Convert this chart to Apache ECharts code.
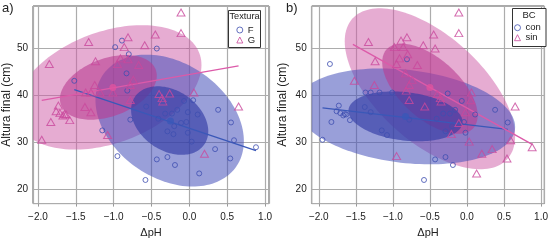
<!DOCTYPE html>
<html><head><meta charset="utf-8">
<script src="https://cdn.jsdelivr.net/npm/echarts@6/dist/echarts.min.js"></script>
<style>html,body{margin:0;padding:0;background:#fff}#c{width:551px;height:243px}</style>
</head><body><div id="c"></div>
<script>
// ---- data (same measurements shown in both panels, grouped differently) ----
const dpH = [
 -1.85,-1.95,-1.83,-1.73,-1.76,-1.71,-1.65,-1.63,-1.67,-1.58,
 -1.38,-1.30,-1.08,-1.33,-0.81,-0.86,-0.59,-1.24,-0.91,-0.81,
 -0.95,-0.67,-0.74,-1.25,-0.78,-1.37,-1.30,-1.18,-1.01,-0.78,
 -0.11,-0.11,-0.45,0.06,0.65,-0.40,-0.26,-0.36,-0.35,0.20,
 -0.89,-0.98,-0.80,-0.83,-1.52,-0.82,-0.57,-0.43,-0.07,0.05,
 -0.32,-0.23,-0.16,-0.02,0.11,0.38,0.55,-0.41,-0.11,-0.04,
 -0.20,-0.29,-0.21,-0.02,0.03,0.59,0.88,0.34,0.54,-0.43,
 -0.29,-0.19,0.13,-0.58,-0.78,-1.15,-0.95
];
const altura = [
 46.7,30.5,34.3,37.8,36.6,36.2,36.0,35.9,35.7,34.7,
 37.5,36.4,31.5,51.4,52.4,50.3,50.7,47.3,47.9,47.7,
 46.7,46.5,43.3,42.2,42.2,40.6,40.6,40.6,40.6,39.0,
 57.7,53.3,53.0,40.6,37.6,40.3,40.4,39.4,38.7,27.5,
 51.7,50.3,48.8,44.7,43.1,41.0,37.6,50.0,38.8,38.95,
 36.1,36.1,36.9,36.4,35.9,36.9,34.2,35.0,34.1,34.3,
 33.4,32.3,31.7,32.0,30.1,30.4,28.9,28.5,26.5,26.3,
 26.8,25.1,23.3,21.9,34.8,32.5,27.0
];
const textura = [
 'G','G','G','G','G','G','G','G','G','G',
 'G','G','G','G','G','G','G','G','G','G',
 'G','G','G','G','G','G','G','G','G','G',
 'G','G','G','G','G','G','G','G','G','G',
 'F','F','F','F','F','F','F','F','F','F',
 'F','F','F','F','F','F','F','F','F','F',
 'F','F','F','F','F','F','F','F','F','F',
 'F','F','F','F','F','F','F'
];
const bc = [
 'con','con','con','con','con','con','con','con','con','con',
 'con','con','con','sin','sin','sin','sin','sin','sin','con',
 'sin','sin','sin','sin','sin','con','con','con','con','sin',
 'sin','sin','sin','sin','sin','sin','con','sin','sin','sin',
 'sin','sin','sin','sin','sin','sin','sin','sin','con','sin',
 'con','con','con','sin','con','con','con','con','sin','con',
 'con','con','sin','con','sin','sin','sin','sin','sin','con',
 'con','con','sin','con','con','con','sin'
];
const groupsA = ['F','G'];
const groupsB = ['con','sin'];
const xTicks = [-2.0,-1.5,-1.0,-0.5,0.0,0.5,1.0];
const yTicks = [20,30,40,50];
// group means (filled dots)
const meanA_x = [-0.25,-1.01], meanA_y = [34.5,41.7];
const meanB_x = [-0.83,-0.50], meanB_y = [35.5,41.7];
// regression lines (end points)
const fitA_x0 = [-1.52,-1.95], fitA_y0 = [41.2,38.9], fitA_x1 = [0.88,0.65], fitA_y1 = [28.2,46.3];
const fitB_x0 = [-1.95,-1.54], fitB_y0 = [37.3,50.9], fitB_x1 = [0.55,0.88], fitB_y1 = [32.7,29.5];
// ellipses: centre, half-extents (outer), correlation, inner scale
const ellA_cx = [-0.26,-1.07], ellA_cy = [34.6,41.7], ellA_hx = [0.98,1.23], ellA_hy = [14.1,13.3], ellA_r = [-0.31,0.36], ellA_in = [0.52,0.52];
const ellB_cx = [-0.83,-0.50], ellB_cy = [35.5,41.4], ellB_hx = [1.48,1.15], ellB_hy = [10.25,17.2], ellB_r = [-0.22,-0.59], ellB_in = [0.52,0.56];

// ---- styling ----
const FONT = 'Liberation Sans, Arial, sans-serif';
const BLUE = '#3f4fb0', PINK = '#c9499c';
const BLUE_LINE = '#3a58b8', PINK_LINE = '#dc5aa9';
const FILL = {
  blueOuter: 'rgba(70,80,185,0.55)', blueInner: 'rgba(50,60,165,0.65)',
  pinkOuter: 'rgba(205,90,165,0.5)', pinkInner: 'rgba(185,60,145,0.6)'
};
const X_MIN = [-2.065,-2.096], X_MAX = [1.052,1.044];
const Y_MIN = 16.85, Y_MAX = 59.1;

function fmtX(v){
  if (Math.abs(v*2 - Math.round(v*2)) > 1e-6) return '';
  return (v < -1e-9 ? '\u2212' : '') + Math.abs(v).toFixed(1);
}
function fmtY(v){
  if (Math.abs(v/10 - Math.round(v/10)) > 1e-6) return '';
  return String(v);
}
function xAxis(gi){
  return {type:'value', gridIndex:gi, min:X_MIN[gi], max:X_MAX[gi], minInterval:0.5, maxInterval:0.5,
    name:'\u0394pH', nameLocation:'middle', nameGap:15,
    nameTextStyle:{fontSize:11, color:'#222', fontFamily:FONT},
    axisLine:{show:false}, axisTick:{show:true, length:3, lineStyle:{color:'#999'}},
    axisLabel:{fontSize:10, color:'#222', fontFamily:FONT, margin:8.5, showMinLabel:false, showMaxLabel:false, formatter:fmtX},
    splitLine:{show:true, lineStyle:{color:'#acacac', width:1.2}}};
}
function yAxis(gi, gap){
  return {type:'value', gridIndex:gi, min:Y_MIN, max:Y_MAX, minInterval:10, maxInterval:10,
    name:'Altura final (cm)', nameLocation:'middle', nameGap:gap,
    nameTextStyle:{fontSize:12, color:'#222', fontFamily:FONT},
    axisLine:{show:false}, axisTick:{show:true, length:3, lineStyle:{color:'#999'}},
    axisLabel:{fontSize:10, color:'#222', fontFamily:FONT, margin:5, showMinLabel:false, showMaxLabel:false, formatter:fmtY},
    splitLine:{show:true, lineStyle:{color:'#acacac', width:1.2}}};
}
// drawing order: outer pink, outer blue, inner pink, inner blue
function ellipseItems(cx, cy, hx, hy, r, sc){
  const outer = i => [cx[i],cy[i],hx[i],hy[i],r[i]];
  const inner = i => [cx[i],cy[i],hx[i]*sc[i],hy[i]*sc[i],r[i]];
  return [outer(1), outer(0), inner(1), inner(0)];
}
const ELL_FILLS = [FILL.pinkOuter, FILL.blueOuter, FILL.pinkInner, FILL.blueInner];
function ellipseSeries(gi, items, fills){
  return {type:'custom', xAxisIndex:gi, yAxisIndex:gi, z:1, silent:true,
    data: items,
    renderItem: function(params, api){
      const cx = api.value(0), cy = api.value(1), hx = api.value(2), hy = api.value(3), r = api.value(4);
      const s = Math.sqrt(1 - r*r);
      const pts = [];
      for (let k = 0; k < 144; k++){
        const t = 2*Math.PI*k/144;
        pts.push(api.coord([cx + hx*Math.cos(t), cy + hy*(r*Math.cos(t) + s*Math.sin(t))]));
      }
      const cs = params.coordSys;
      return {type:'polygon', shape:{points:pts}, style:{fill:fills[params.dataIndex], stroke:null},
        clipPath:{type:'rect', shape:{x:cs.x, y:cs.y, width:cs.width, height:cs.height}}};
    }};
}
function pts(groupArr, g){
  const out = [];
  for (let i = 0; i < dpH.length; i++) if (groupArr[i] === g) out.push([dpH[i], altura[i]]);
  return out;
}
function lineSeries(gi, x0, y0, x1, y1, color){
  return {type:'line', xAxisIndex:gi, yAxisIndex:gi, z:3, silent:true, symbol:'none',
    data:[[x0,y0],[x1,y1]], lineStyle:{color:color, width:1.3}};
}
function scatter(gi, name, data, symbol, color, size){
  return {type:'scatter', name:name, xAxisIndex:gi, yAxisIndex:gi, z:4, symbol:symbol, symbolSize:size,
    data:data, itemStyle:{color:'rgba(0,0,0,0)', borderColor:color, borderWidth:1}};
}
function meanSeries(gi, xs, ys, colors){
  return {type:'scatter', xAxisIndex:gi, yAxisIndex:gi, z:5, symbol:'circle', symbolSize:7, silent:true,
    data: xs.map((x,i)=>({value:[x, ys[i]], itemStyle:{color:colors[i]}}))};
}

const series = [
  ellipseSeries(0, ellipseItems(ellA_cx,ellA_cy,ellA_hx,ellA_hy,ellA_r,ellA_in), ELL_FILLS),
  ellipseSeries(1, ellipseItems(ellB_cx,ellB_cy,ellB_hx,ellB_hy,ellB_r,ellB_in), ELL_FILLS),
  lineSeries(0, fitA_x0[0], fitA_y0[0], fitA_x1[0], fitA_y1[0], BLUE_LINE),
  lineSeries(0, fitA_x0[1], fitA_y0[1], fitA_x1[1], fitA_y1[1], PINK_LINE),
  lineSeries(1, fitB_x0[0], fitB_y0[0], fitB_x1[0], fitB_y1[0], BLUE_LINE),
  lineSeries(1, fitB_x0[1], fitB_y0[1], fitB_x1[1], fitB_y1[1], PINK_LINE),
  scatter(0, groupsA[0], pts(textura, groupsA[0]), 'circle', BLUE, 5),
  scatter(0, groupsA[1], pts(textura, groupsA[1]), 'triangle', PINK, [8,7]),
  scatter(1, groupsB[0], pts(bc, groupsB[0]), 'circle', BLUE, 5),
  scatter(1, groupsB[1], pts(bc, groupsB[1]), 'triangle', PINK, [8,7]),
  meanSeries(0, meanA_x, meanA_y, [BLUE_LINE, '#e0539f']),
  meanSeries(1, meanB_x, meanB_y, [BLUE_LINE, '#e0539f'])
];

function legend(left, top, names){
  return {orient:'vertical', left:left, top:top, padding:0, itemGap:0, itemWidth:6, itemHeight:6, z:6,
    selectedMode:false,
    textStyle:{fontSize:9.5, lineHeight:10, color:'#222', fontFamily:FONT},
    data:[
      {name:names[0], icon:'circle', itemStyle:{color:'rgba(0,0,0,0)', borderColor:BLUE, borderWidth:1}},
      {name:names[1], icon:'triangle', itemStyle:{color:'rgba(0,0,0,0)', borderColor:PINK, borderWidth:1}}
    ]};
}

const option = {
  animation:false,
  backgroundColor:'#fff',
  textStyle:{fontFamily:FONT},
  grid:[
    {left:30.7, top:6, width:238.3, height:201.5, show:true, borderColor:'#555', borderWidth:1, backgroundColor:'rgba(0,0,0,0)'},
    {left:311.7, top:6, width:237.6, height:201.5, show:true, borderColor:'#555', borderWidth:1, backgroundColor:'rgba(0,0,0,0)'}
  ],
  xAxis:[xAxis(0), xAxis(1)],
  yAxis:[yAxis(0, 11.5), yAxis(1, 23.5)],
  legend:[legend(236.3, 25, groupsA), legend(514, 22.7, groupsB)],
  graphic:[
    {type:'rect', z:5, shape:{x:228.5, y:10.5, width:32, height:37}, style:{fill:'#fff', stroke:'#333', lineWidth:1}},
    {type:'text', z:6, x:244.5, y:16.5, style:{text:'Textura', fontSize:9.2, fill:'#222', fontFamily:FONT, align:'center', verticalAlign:'middle'}},
    {type:'rect', z:5, shape:{x:512.5, y:8.5, width:33.5, height:38}, style:{fill:'#fff', stroke:'#333', lineWidth:1}},
    {type:'text', z:6, x:529, y:15.7, style:{text:'BC', fontSize:9.5, fill:'#222', fontFamily:FONT, align:'center', verticalAlign:'middle'}},
    {type:'text', z:6, x:2, y:2, style:{text:'a)', fontSize:13, fill:'#222', fontFamily:FONT}},
    {type:'text', z:6, x:286, y:2, style:{text:'b)', fontSize:13, fill:'#222', fontFamily:FONT}}
  ],
  series:series
};
const chart = echarts.init(document.getElementById('c'));
chart.setOption(option);
</script>
</body></html>
